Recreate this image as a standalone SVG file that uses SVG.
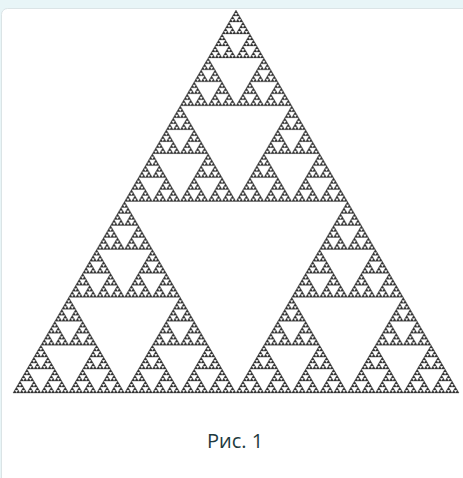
<svg xmlns="http://www.w3.org/2000/svg" xmlns:xlink="http://www.w3.org/1999/xlink" width="463" height="478" viewBox="0 0 463 478">
<style>
.cap{font-family:"Open Sans","Noto Sans","Liberation Sans",sans-serif;font-size:20px;fill:#1e3a40;text-anchor:middle}
</style>
<defs>
<polygon id="t0" points="0,0 -1.7421875,2.9921875 1.7421875,2.9921875" fill="#333333" stroke="#333333" stroke-width="0.3" stroke-linejoin="round"/>
<g id="t1"><use xlink:href="#t0"/><use xlink:href="#t0" x="-1.7421875" y="2.9921875"/><use xlink:href="#t0" x="1.7421875" y="2.9921875"/></g>
<g id="t2"><use xlink:href="#t1"/><use xlink:href="#t1" x="-3.484375" y="5.984375"/><use xlink:href="#t1" x="3.484375" y="5.984375"/></g>
<g id="t3"><use xlink:href="#t2"/><use xlink:href="#t2" x="-6.96875" y="11.96875"/><use xlink:href="#t2" x="6.96875" y="11.96875"/></g>
<g id="t4"><use xlink:href="#t3"/><use xlink:href="#t3" x="-13.9375" y="23.9375"/><use xlink:href="#t3" x="13.9375" y="23.9375"/></g>
<g id="t5"><use xlink:href="#t4"/><use xlink:href="#t4" x="-27.875" y="47.875"/><use xlink:href="#t4" x="27.875" y="47.875"/></g>
<g id="t6"><use xlink:href="#t5"/><use xlink:href="#t5" x="-55.75" y="95.75"/><use xlink:href="#t5" x="55.75" y="95.75"/></g>
<g id="t7"><use xlink:href="#t6"/><use xlink:href="#t6" x="-111.5" y="191.5"/><use xlink:href="#t6" x="111.5" y="191.5"/></g>
</defs>
<rect x="0" y="0" width="463" height="478" fill="#e8f5f7"/>
<rect x="1.5" y="8.5" width="475" height="485" rx="6" fill="#ffffff" stroke="#dbe4e6"/>
<use xlink:href="#t7" x="236" y="10"/>
<text class="cap" x="235" y="448">Рис. 1</text>
</svg>
